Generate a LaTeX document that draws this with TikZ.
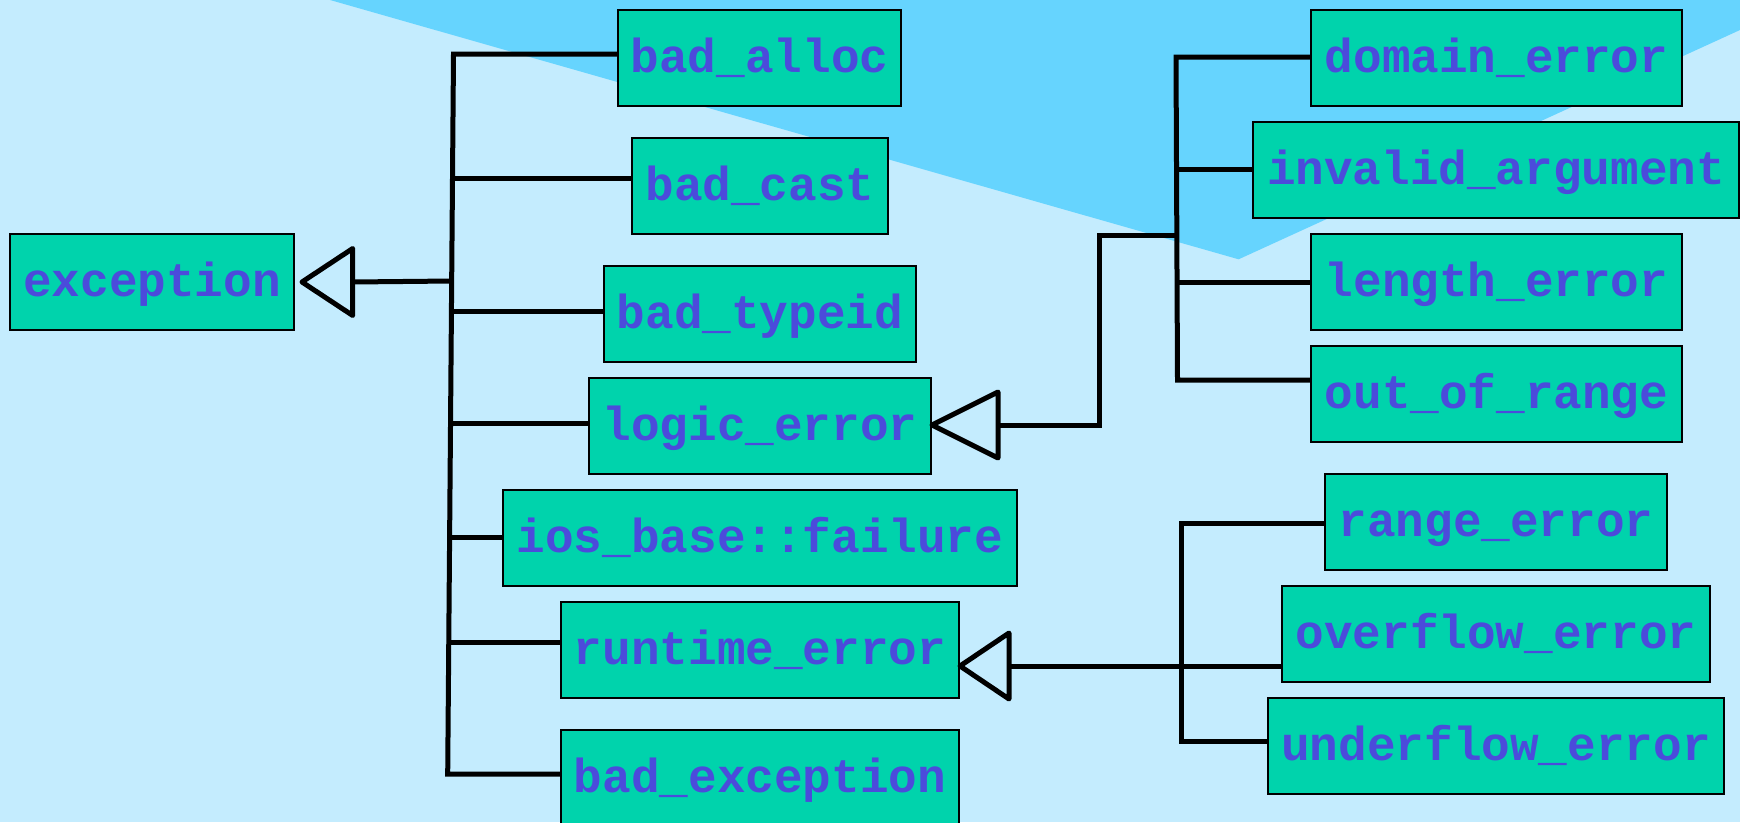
\documentclass[tikz,border=0pt]{standalone}
\usepackage{fontspec}
\setmonofont{Liberation Mono}
\usetikzlibrary{calc}
\definecolor{bgl}{HTML}{C4ECFE}
\definecolor{bgd}{HTML}{66D4FE}
\definecolor{boxf}{HTML}{00D3AC}
\definecolor{txt}{HTML}{4B4BDB}
\begin{document}
\begin{tikzpicture}[x=1pt,y=-1pt,
  cls/.style={draw=black, line width=2pt, fill=boxf, text=txt,
    font=\fontsize{47.7pt}{50pt}\selectfont\ttfamily\bfseries,
    inner sep=0pt, minimum height=96pt, text height=28pt, text depth=0pt,
    anchor=north west},
  link/.style={line width=5pt, line join=miter, line cap=butt, black},
  tri/.style={line width=5pt, line join=round, black}]
\useasboundingbox (0,0) rectangle (1740,822);
\fill[bgl] (0,0) rectangle (1740,822);
\fill[bgd] (330,0) -- (1238.6,259.3) -- (1740,30) -- (1740,0) -- cycle;

% nodes
\node[cls, minimum width=284pt] (exc) at (9,233) {exception};
\node[cls, minimum width=283pt] (balloc) at (617,9) {bad\_alloc};
\node[cls, minimum width=256pt] (bcast) at (631,137) {bad\_cast};
\node[cls, minimum width=312pt] (btypeid) at (603,265) {bad\_typeid};
\node[cls, minimum width=342pt] (logic) at (588,377) {logic\_error};
\node[cls, minimum width=514pt] (ios) at (502,489) {ios\_base::failure};
\node[cls, minimum width=398pt] (runtime) at (560,601) {runtime\_error};
\node[cls, minimum width=398pt] (bexc) at (560,729) {bad\_exception};
\node[cls, minimum width=371pt] (domain) at (1310,9) {domain\_error};
\node[cls, minimum width=486pt] (invalid) at (1252,121) {invalid\_argument};
\node[cls, minimum width=371pt] (length) at (1310,233) {length\_error};
\node[cls, minimum width=371pt] (oor) at (1310,345) {out\_of\_range};
\node[cls, minimum width=342pt] (range) at (1324,473) {range\_error};
\node[cls, minimum width=428pt] (overflow) at (1281,585) {overflow\_error};
\node[cls, minimum width=456pt] (underflow) at (1267,697) {underflow\_error};

% trunk 1 junctions
\coordinate (j1) at (453.5,54);
\coordinate (j2) at (452.5,178);
\coordinate (j0) at (452.1,281);
\coordinate (j3) at (451.8,311);
\coordinate (j4) at (451.1,423);
\coordinate (j5) at (450.6,537);
\coordinate (j6) at (449.8,642);
\coordinate (j7) at (447.7,774);
\draw[link] (j1 -| balloc.west) -- (j1) -- (j7) -- (j7 -| bexc.west);
\draw[link] (j2) -- (j2 -| bcast.west);
\draw[link] (j3) -- (j3 -| btypeid.west);
\draw[link] (j4) -- (j4 -| logic.west);
\draw[link] (j5) -- (j5 -| ios.west);
\draw[link] (j6) -- (j6 -| runtime.west);

% exception arrow
\coordinate (a1) at ($(exc.east)+(7,0)$);
\coordinate (a1b) at ($(a1)+(50.7,0)$);
\draw[tri] (a1) -- ($(a1b)+(0,-33.5)$) -- ($(a1b)+(0,33.5)$) -- cycle;
\draw[link] (a1b) -- (j0);

% trunk 2 (logic_error children)
\coordinate (k1) at (1176,57);
\coordinate (k2) at (1176.4,169);
\coordinate (k0) at (1176.6,235);
\coordinate (k3) at (1176.9,282);
\coordinate (k4) at (1177.5,380);
\draw[link] (k1 -| domain.west) -- (k1) -- (k4) -- (k4 -| oor.west);
\draw[link] (k2) -- (k2 -| invalid.west);
\draw[link] (k3) -- (k3 -| length.west);

% logic arrow
\coordinate (a2) at (932,425);
\coordinate (a2b) at (998,425);
\coordinate (a2c) at (1099,425);
\coordinate (a2d) at (1099,235);
\draw[tri] (a2) -- ($(a2b)+(0,-33)$) -- ($(a2b)+(0,33)$) -- cycle;
\draw[link] (a2b) -- (a2c) -- (a2d) -- (k0);

% trunk 3 (runtime_error children)
\coordinate (m1) at (1181,523);
\coordinate (m3) at (1181,741);
\draw[link] (m1 -| range.west) -- (m1) -- (m3) -- (m3 -| underflow.west);

% runtime arrow
\coordinate (a3) at (960,666);
\coordinate (a3b) at (1009,666);
\draw[tri] (a3) -- ($(a3b)+(0,-33)$) -- ($(a3b)+(0,33)$) -- cycle;
\draw[link] (a3b) -- (a3b -| overflow.west);
\end{tikzpicture}
\end{document}
